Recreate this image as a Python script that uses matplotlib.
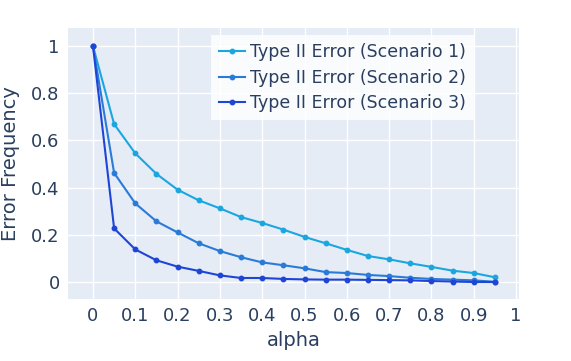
import matplotlib.pyplot as plt
import numpy as np

alpha = [0, 0.05, 0.1, 0.15, 0.2, 0.25, 0.3, 0.35, 0.4, 0.45,
         0.5, 0.55, 0.6, 0.65, 0.7, 0.75, 0.8, 0.85, 0.9, 0.95]
scenario_1 = [1.0, 0.669, 0.545, 0.458, 0.391, 0.346, 0.312, 0.275, 0.250, 0.222,
              0.191, 0.164, 0.136, 0.110, 0.096, 0.079, 0.064, 0.048, 0.038, 0.020]
scenario_2 = [1.0, 0.462, 0.333, 0.257, 0.210, 0.164, 0.131, 0.105, 0.083, 0.071,
              0.058, 0.042, 0.038, 0.030, 0.025, 0.018, 0.013, 0.010, 0.007, 0.001]
scenario_3 = [1.0, 0.227, 0.138, 0.092, 0.065, 0.047, 0.028, 0.017, 0.017, 0.013,
              0.011, 0.010, 0.010, 0.009, 0.008, 0.007, 0.004, 0.002, 0.0, 0.0]
names = ["Type II Error (Scenario 1)", "Type II Error (Scenario 2)", "Type II Error (Scenario 3)"]
colors = ["#1AA7E0", "#2A7BD8", "#1F45D6"]

text_col = "#2a3f5f"
fig = plt.figure(figsize=(5.71, 3.61), dpi=100)
ax = fig.add_axes([68 / 571, 1 - 299 / 361, (519 - 68) / 571, (299 - 28) / 361])
ax.set_facecolor("#E5ECF6")

for ys, name, c in zip([scenario_1, scenario_2, scenario_3], names, colors):
    ax.plot(alpha, ys, color=c, lw=1.5, marker="o", ms=3.2, label=name, zorder=3)

ax.set_xlim(-0.059, 1.007)
ax.set_ylim(-0.072, 1.076)
xt = np.round(np.arange(0, 1.01, 0.1), 1)
yt = np.round(np.arange(0, 1.01, 0.2), 1)
ax.set_xticks(xt)
ax.set_xticklabels(["0" if v == 0 else ("1" if v == 1 else f"{v:g}") for v in xt])
ax.set_yticks(yt)
ax.set_yticklabels(["0" if v == 0 else ("1" if v == 1 else f"{v:g}") for v in yt])
ax.grid(color="white", lw=1)
ax.set_axisbelow(True)
for s in ax.spines.values():
    s.set_visible(False)
ax.tick_params(length=0, labelsize=13, colors=text_col, pad=6)
ax.set_xlabel("alpha", fontsize=14, color=text_col, labelpad=4)
ax.set_ylabel("Error Frequency", fontsize=14, color=text_col, labelpad=8)

leg = ax.legend(loc="upper left", bbox_to_anchor=(211 / 571, 1 - 35 / 361),
                bbox_transform=fig.transFigure, fontsize=12.5, frameon=True,
                fancybox=False, borderaxespad=0, handlelength=1.5, handletextpad=0.3,
                labelspacing=0.45, borderpad=0.45)
leg.get_frame().set_facecolor((1, 1, 1, 0.5))
leg.get_frame().set_edgecolor("none")
for t in leg.get_texts():
    t.set_color(text_col)

fig.savefig("out.png", dpi=100)
